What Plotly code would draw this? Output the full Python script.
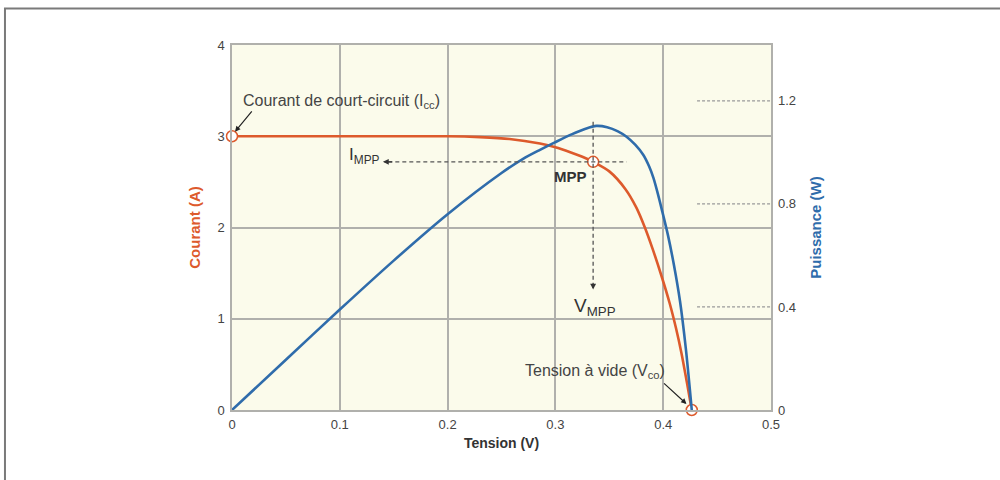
import plotly.graph_objects as go

# ---- data ----
v_current = [0.0, 0.05, 0.10, 0.15, 0.20, 0.23, 0.2575, 0.2857, 0.30, 0.315, 0.325, 0.335,
             0.35, 0.365, 0.375, 0.383, 0.3905, 0.398, 0.406, 0.412, 0.417, 0.422, 0.4265]
current = [3.0, 3.0, 3.0, 3.0, 3.0, 2.99, 2.97, 2.92, 2.88, 2.82, 2.775, 2.72,
           2.615, 2.42, 2.22, 2.00, 1.755, 1.485, 1.17, 0.89, 0.62, 0.30, 0.0]

v_power = [0.0, 0.05, 0.10, 0.15, 0.20, 0.25, 0.27, 0.2857, 0.30, 0.315, 0.328, 0.338,
           0.348, 0.358, 0.366, 0.374, 0.3816, 0.387, 0.391, 0.395, 0.3986, 0.4045,
           0.41, 0.4156, 0.421, 0.4265]
power = [0.0, 0.195, 0.39, 0.58, 0.76, 0.92, 0.975, 1.01, 1.04, 1.07, 1.092, 1.103,
         1.098, 1.082, 1.061, 1.03, 0.99, 0.945, 0.90, 0.84, 0.78, 0.677,
         0.562, 0.422, 0.238, 0.0]

x_ticks = [0, 0.1, 0.2, 0.3, 0.4, 0.5]
x_tick_labels = ["0", "0.1", "0.2", "0.3", "0.4", "0.5"]
y_ticks = [0, 1, 2, 3, 4]
y2_ticks = [0, 0.4, 0.8, 1.2]
y2_tick_labels = ["0", "0.4", "0.8", "1.2"]

i_sc = 3.0
v_oc = 0.4265
v_mpp, i_mpp = 0.335, 2.72

ORANGE = "#dd5a2c"
BLUE = "#2f6cab"
TXT = "#444444"
FONT = "Liberation Sans"

fig = go.Figure()
fig.add_trace(go.Scatter(x=v_current, y=current, mode="lines",
                         line=dict(color=ORANGE, width=2.6, shape="spline", smoothing=0.8),
                         hoverinfo="skip"))
fig.add_trace(go.Scatter(x=v_power, y=power, mode="lines", yaxis="y2",
                         line=dict(color=BLUE, width=2.6, shape="spline", smoothing=0.8),
                         hoverinfo="skip"))
fig.add_trace(go.Scatter(x=[0, v_mpp, v_oc], y=[i_sc, i_mpp, 0], mode="markers",
                         marker=dict(symbol="circle", size=11, color="white",
                                     line=dict(color=ORANGE, width=1.5)),
                         cliponaxis=False, hoverinfo="skip"))

shapes = [
    # outer frame
    dict(type="rect", xref="paper", yref="paper", x0=-0.4212, x1=1.6, y0=-0.6, y1=1.1,
         line=dict(color="#7a7a7a", width=2), layer="below"),
    # dashed MPP guides
    dict(type="line", xref="x", yref="y", x0=0.145, x1=0.366, y0=i_mpp, y1=i_mpp,
         line=dict(color="#555555", width=1.3, dash="4px,3px")),
    dict(type="line", xref="x", yref="y", x0=v_mpp, x1=v_mpp, y0=3.16, y1=1.36,
         line=dict(color="#555555", width=1.3, dash="4px,3px")),
]
for t in y2_ticks[1:]:
    shapes.append(dict(type="line", xref="x", yref="y2", x0=0.4314, x1=0.5, y0=t, y1=t,
                       line=dict(color="#9a9a9a", width=1.2, dash="3px,2px")))

annotations = [
    dict(x=0.102, y=3.386, xref="x", yref="y", text="Courant de court-circuit (I<sub>cc</sub>)",
         showarrow=False, font=dict(family=FONT, size=16, color=TXT)),
    dict(x=0.0028, y=3.05, ax=0.0195, ay=3.288, xref="x", yref="y", axref="x", ayref="y",
         text="", showarrow=True, arrowhead=2, arrowsize=0.9, arrowwidth=1.2, arrowcolor="#222"),
    dict(x=0.1225, y=2.78, xref="x", yref="y", text="I<sub>MPP</sub>",
         showarrow=False, font=dict(family=FONT, size=17, color="#333")),
    dict(x=0.140, y=i_mpp, ax=0.150, ay=i_mpp, xref="x", yref="y", axref="x", ayref="y",
         text="", showarrow=True, arrowhead=2, arrowsize=0.9, arrowwidth=1.3, arrowcolor="#333"),
    dict(x=0.314, y=2.564, xref="x", yref="y", text="<b>MPP</b>",
         showarrow=False, font=dict(family=FONT, size=15, color="#333")),
    dict(x=v_mpp, y=1.32, ax=v_mpp, ay=1.40, xref="x", yref="y", axref="x", ayref="y",
         text="", showarrow=True, arrowhead=2, arrowsize=0.9, arrowwidth=1.3, arrowcolor="#333"),
    dict(x=0.3367, y=1.13, xref="x", yref="y", text="V<sub>MPP</sub>",
         showarrow=False, font=dict(family=FONT, size=19, color="#333")),
    dict(x=0.3367, y=0.427, xref="x", yref="y", text="Tension à vide (V<sub>co</sub>)",
         showarrow=False, font=dict(family=FONT, size=16, color=TXT)),
    dict(x=0.4216, y=0.066, ax=0.3994, ay=0.307, xref="x", yref="y", axref="x", ayref="y",
         text="", showarrow=True, arrowhead=2, arrowsize=0.9, arrowwidth=1.2, arrowcolor="#222"),
]

fig.update_layout(
    width=1000, height=480,
    margin=dict(l=232, r=229, t=45, b=70),
    paper_bgcolor="white", plot_bgcolor="#fbfbeb",
    showlegend=False,
    font=dict(family=FONT, size=13, color=TXT),
    xaxis=dict(range=[0, 0.5], tickvals=x_ticks, ticktext=x_tick_labels,
               showgrid=True, gridcolor="#b0b0ac", gridwidth=1.5, zeroline=False,
               showline=True, linecolor="#b0b0ac", linewidth=1.5, mirror=True,
               ticks="", ticklabelstandoff=2, tickfont=dict(family=FONT, size=13, color=TXT),
               title=dict(text="<b>Tension (V)</b>", standoff=7,
                          font=dict(family=FONT, size=14, color="#333"))),
    yaxis=dict(range=[0, 4], tickvals=y_ticks,
               showgrid=True, gridcolor="#b0b0ac", gridwidth=1.5, zeroline=False,
               showline=True, linecolor="#b0b0ac", linewidth=1.5, mirror=True,
               ticks="", ticklabelstandoff=3, tickfont=dict(family=FONT, size=13, color=TXT),
               title=dict(text="<b>Courant (A)</b>", standoff=13,
                          font=dict(family=FONT, size=15, color=ORANGE))),
    yaxis2=dict(range=[0, 1.417], tickvals=y2_ticks, ticktext=y2_tick_labels,
                overlaying="y", side="right", showgrid=False, zeroline=False,
                showline=False, ticks="", ticklabelstandoff=6,
                tickfont=dict(family=FONT, size=13, color=TXT),
                title=dict(text="<b>Puissance (W)</b>", standoff=15,
                           font=dict(family=FONT, size=15, color=BLUE))),
    shapes=shapes,
    annotations=annotations,
)

fig.write_html("out.html")
